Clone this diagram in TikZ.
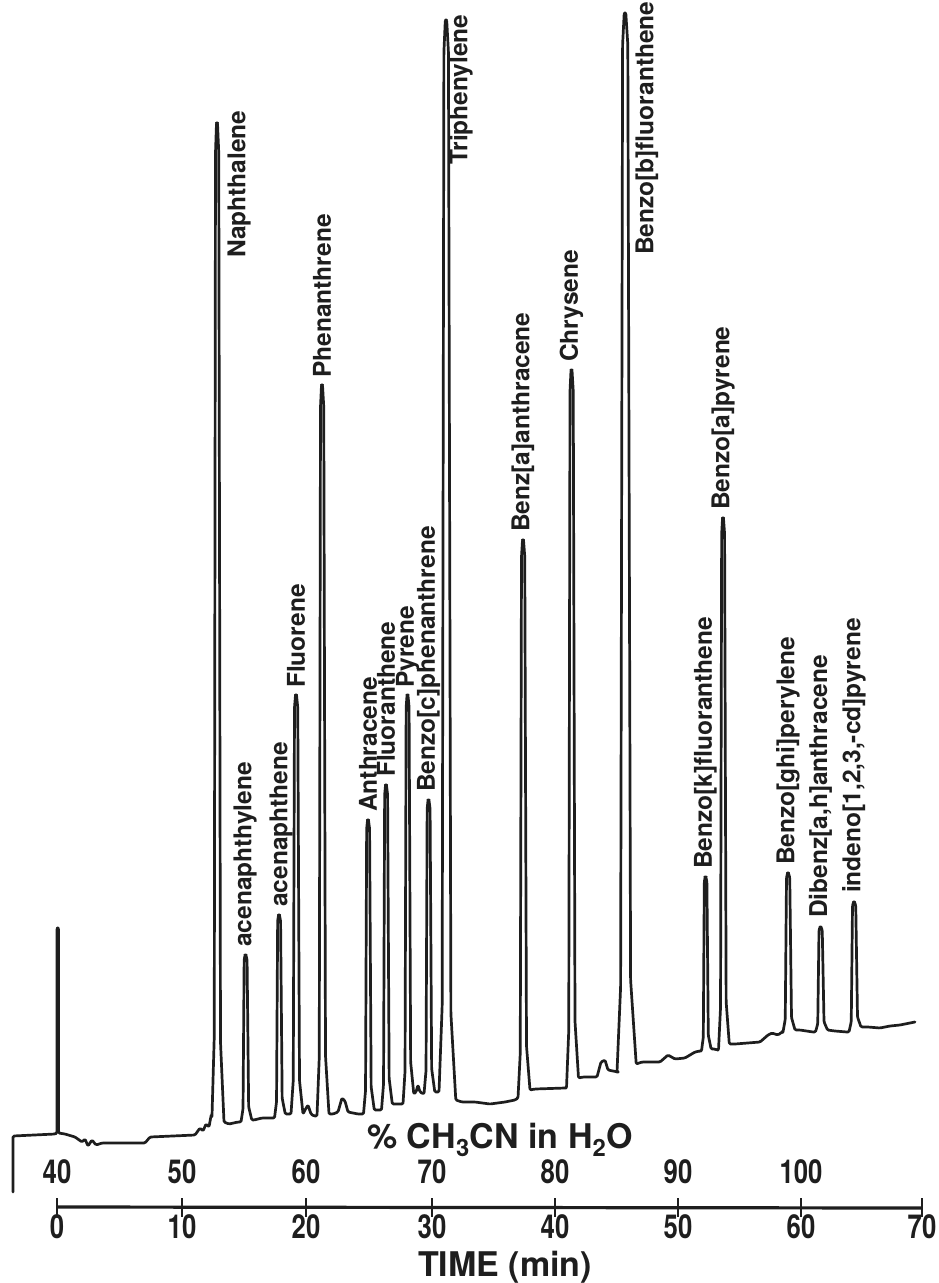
\documentclass[tikz,border=0pt]{standalone}
\usepackage{fontspec}
\setmainfont{TeX Gyre Heros}
\usepackage{graphicx}
\definecolor{ink}{HTML}{1E1E1E}
% peak: #1 x, #2 top y, #3 left base y, #4 right base y, #5 half width
\newcommand\pk[5]{-- (#1-#5,#3) -- ({#1-0.55*#5},{#3-0.08*(#3-#2)}) -- ({#1-0.3*#5},{#2+0.03*(#3-#2)}) -- ({#1-0.1*#5},#2) -- ({#1+0.1*#5},#2) -- ({#1+0.35*#5},{#2+0.03*(#4-#2)}) -- ({#1+0.7*#5},{#4-0.08*(#4-#2)}) -- ({#1+1.4*#5},#4)}
\begin{document}
\begin{tikzpicture}[x=1pt,y=-1pt,
  trace/.style={line width=2.7pt, draw=ink, line join=round, line cap=round, rounded corners=1.2pt},
  lbl/.style={rotate=90, anchor=west, inner sep=0pt, font=\fontsize{24.5}{24.5}\selectfont\bfseries, text=ink},
  num/.style={inner sep=0pt, font=\fontsize{33}{33}\selectfont\bfseries, text=ink},
  ttl/.style={inner sep=0pt, font=\fontsize{34}{34}\selectfont\bfseries, text=ink},
  axisline/.style={line width=3.2pt, draw=ink},
  tick/.style={line width=2.8pt, draw=ink}]
\useasboundingbox[fill=white] (0,0) rectangle (939,1283);

% chromatogram trace
\draw[trace] (13,1192) -- (13,1136) -- (55,1134) -- (57,1133) -- (57,928) -- (58.5,928) -- (58.5,1133)
  -- (65,1134) -- (75,1137) -- (82,1142) -- (85,1139) -- (88,1146) -- (92,1140) -- (96,1145) -- (102,1143)
  -- (145,1143) -- (150,1137) -- (195,1135) -- (200,1128) -- (203,1131) -- (206,1124) -- (209,1127) -- (211,1116)
  \pk{217}{123}{1116}{1122}{5} -- (229,1124) -- (238,1122)
  \pk{245.5}{955}{1122}{1120}{4.5} -- (254,1120) -- (262,1118) -- (272,1118)
  \pk{279}{915}{1118}{1114}{4.5} -- (288,1114)
  \pk{296}{695}{1114}{1114}{5} -- (305,1110) -- (308,1105) -- (311,1114) -- (314,1116)
  \pk{322}{385}{1116}{1114}{5} -- (333,1114) -- (338,1112) -- (342,1098) -- (345,1101) -- (348,1112) -- (358,1114)
  \pk{368}{820}{1114}{1110}{4.5} -- (378,1110)
  \pk{386}{785}{1110}{1104}{4.5} -- (397,1104)
  \pk{407.5}{695}{1104}{1094}{4.5} -- (416,1092) -- (418,1085) -- (420,1092)
  \pk{428.5}{800}{1094}{1092}{4.5} -- (437,1092)
  \pk{446}{20}{1092}{1100}{7} -- (462,1102) -- (475,1102) -- (490,1104) -- (505,1102) -- (515,1100) -- (518,1098)
  \pk{523}{540}{1098}{1090}{5} -- (535,1089) -- (565,1088)
  \pk{571.5}{370}{1088}{1078}{5} -- (583,1077) -- (597,1077) -- (601,1062) -- (605,1060) -- (608,1070) -- (618,1072)
  \pk{625}{13}{1072}{1064}{8} -- (642,1062) -- (660,1062) -- (668,1055) -- (675,1059) -- (685,1058) -- (695,1052) -- (700,1051)
  \pk{705.5}{877}{1051}{1049}{4} -- (715,1049) -- (717,1050)
  \pk{723}{518}{1050}{1044}{4.5} -- (735,1044) -- (760,1042) -- (768,1035) -- (772,1033) -- (778,1035) -- (782,1032)
  \pk{788}{873}{1032}{1030}{5} -- (800,1030) -- (813,1032)
  \pk{820.5}{927}{1032}{1030}{5} -- (835,1031) -- (847,1032)
  \pk{854}{902}{1032}{1027}{5} -- (868,1027) -- (880,1028) -- (890,1026) -- (900,1025) -- (915,1022);

% peak labels
\node[lbl] (naph) at (239,258) {Naphthalene};
\node[lbl] (acyl) at (245,947) {acenaphthylene};
\node[lbl] (acen) at (281,907) {acenaphthene};
\node[lbl] (fluo) at (296,688) {Fluorene};
\node[lbl] (phen) at (322,378) {Phenanthrene};
\node[lbl] (anth) at (368,812) {Anthracene};
\node[lbl] (flan) at (386,777) {Fluoranthene};
\node[lbl] (pyr) at (407.5,688) {Pyrene};
\node[lbl] (bcp) at (428.5,792) {Benzo[c]phenanthrene};
\node[lbl] (trip) at (461,165) {Triphenylene};
\node[lbl] (baa) at (523,532) {Benz[a]anthracene};
\node[lbl] (chry) at (571.5,362) {Chrysene};
\node[lbl] (bbf) at (647,255) {Benzo[b]fluoranthene};
\node[lbl] (bkf) at (705.5,869) {Benzo[k]fluoranthene};
\node[lbl] (bap) at (723,510) {Benzo[a]pyrene};
\node[lbl] (bghi) at (788,865) {Benzo[ghi]perylene};
\node[lbl] (dba) at (820.5,918) {Dibenz[a,h]anthracene};
\node[lbl] (ind) at (854,893) {indeno[1,2,3,-cd]pyrene};

% gradient label
\node[ttl] (grad) at (500,1140) {\% CH\textsubscript{3}CN in H\textsubscript{2}O};

% time axis
\coordinate (ax0) at (57,1207);
\coordinate (ax70) at (922,1208);
\draw[axisline] (ax0) -- (ax70);
\foreach \x/\t/\p [count=\i] in {57/0/40,182/10/50,306/20/60,432/30/70,555/40/80,678/50/90,801/60/100,922/70/} {
  \coordinate (tk\i) at (\x,1198);
  \coordinate (tb\i) at (\x,1217);
  \draw[tick] (tk\i) -- (tb\i);
  \node[num] (tn\i) at (\x,1227) {\scalebox{0.78}[1]{\t}};
  \node[num] (pn\i) at (\x,1172) {\scalebox{0.78}[1]{\p}};
}
\node[ttl] (time) at (505,1267) {TIME (min)};
\end{tikzpicture}
\end{document}
